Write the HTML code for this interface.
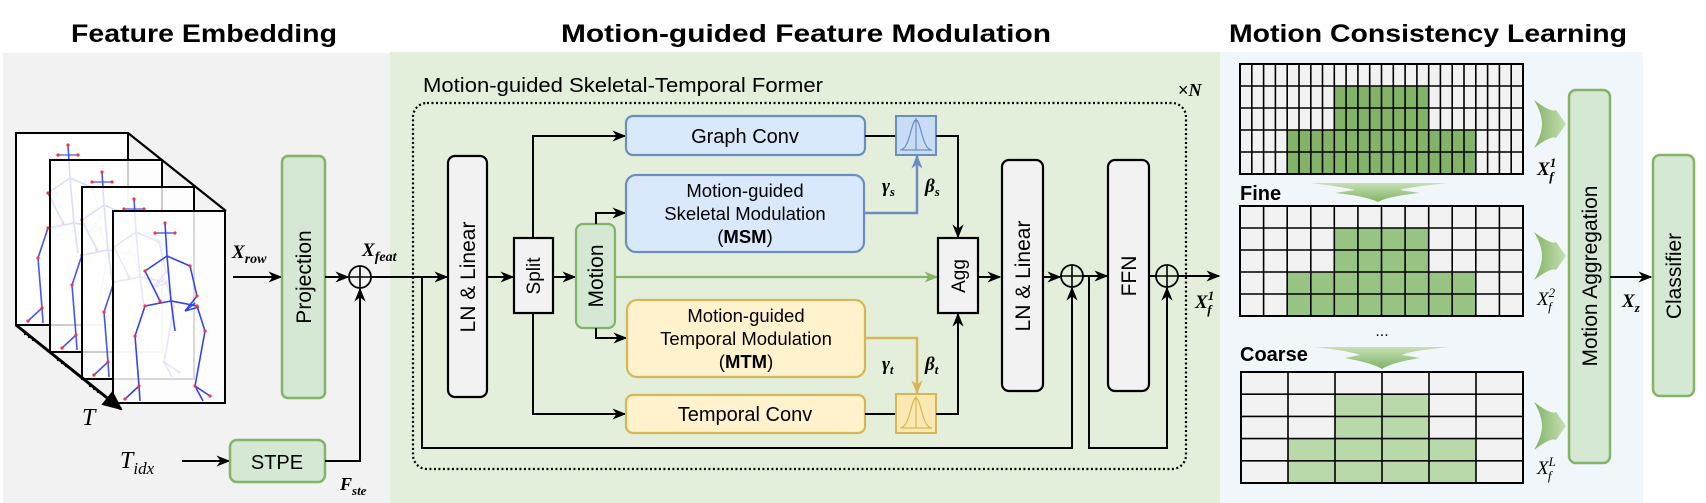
<!DOCTYPE html>
<html><head><meta charset="utf-8"><style>
html,body{margin:0;padding:0;background:#fff;}
svg{display:block;}
text{font-family:"Liberation Sans",sans-serif;}
.m{font-family:"Liberation Serif",serif;font-style:italic;}
</style></head><body>
<svg width="1706" height="503" viewBox="0 0 1706 503" xmlns="http://www.w3.org/2000/svg">
<defs>
<marker id="ab" viewBox="0 0 10 10" refX="9" refY="5" markerWidth="14" markerHeight="14" orient="auto" markerUnits="userSpaceOnUse"><path d="M0,1 L10,5 L0,9 L3,5 z" fill="#000"/></marker>
<marker id="abig" viewBox="0 0 10 10" refX="9" refY="5" markerWidth="20" markerHeight="20" orient="auto" markerUnits="userSpaceOnUse"><path d="M0,0.5 L10,5 L0,9.5 z" fill="#000"/></marker>
<marker id="ag" viewBox="0 0 10 10" refX="9" refY="5" markerWidth="14" markerHeight="14" orient="auto" markerUnits="userSpaceOnUse"><path d="M0,1 L10,5 L0,9 L3,5 z" fill="#82b366"/></marker>
<marker id="abl" viewBox="0 0 10 10" refX="9" refY="5" markerWidth="14" markerHeight="14" orient="auto" markerUnits="userSpaceOnUse"><path d="M0,1 L10,5 L0,9 L3,5 z" fill="#6c8ebf"/></marker>
<marker id="ay" viewBox="0 0 10 10" refX="9" refY="5" markerWidth="14" markerHeight="14" orient="auto" markerUnits="userSpaceOnUse"><path d="M0,1 L10,5 L0,9 L3,5 z" fill="#d6b656"/></marker>
<linearGradient id="gv" x1="0" y1="0" x2="0" y2="1"><stop offset="0" stop-color="#c6e0b4"/><stop offset="1" stop-color="#82b366"/></linearGradient>
<linearGradient id="gh" x1="0" y1="0" x2="1" y2="0"><stop offset="0" stop-color="#82b366"/><stop offset="1" stop-color="#c6e0b4"/></linearGradient>
<g id="fig" stroke="#3344ee" stroke-width="1.6" fill="none">
<path d="M50,12 L52,45 L56,90 L60,120 M52,45 L30,60 L45,90 M52,45 L75,55 L82,85 L70,100 M30,95 L56,90 L82,95 L90,120 L80,175 M30,95 L20,125 L24,175"/>
<path d="M24,175 L10,188 M24,175 L25,190 M80,175 L95,185 M80,175 L88,190 M70,100 L80,92 M70,100 L84,96"/>
<path d="M40,22 L60,22" stroke-width="1.2"/>
</g>
<g id="dots" fill="#ff3333">
<circle cx="50" cy="12" r="1.6"/><circle cx="30" cy="60" r="1.6"/><circle cx="45" cy="90" r="1.6"/><circle cx="75" cy="55" r="1.6"/><circle cx="82" cy="85" r="1.6"/><circle cx="30" cy="95" r="1.6"/><circle cx="82" cy="95" r="1.6"/><circle cx="20" cy="125" r="1.6"/><circle cx="90" cy="120" r="1.6"/><circle cx="24" cy="175" r="1.6"/><circle cx="80" cy="175" r="1.6"/><circle cx="10" cy="188" r="1.6"/><circle cx="95" cy="185" r="1.6"/><circle cx="40" cy="22" r="1.6"/><circle cx="60" cy="22" r="1.6"/>
</g>
</defs>

<rect x="3" y="53" width="387" height="450" fill="#f2f2f2"/>
<rect x="390" y="52" width="830" height="451" fill="#e3eedb"/>
<rect x="1220" y="52" width="423" height="451" fill="#f1f6fb"/>

<text x="204" y="42" font-size="25" font-weight="bold" text-anchor="middle" textLength="266" lengthAdjust="spacingAndGlyphs">Feature Embedding</text>
<text x="806" y="42" font-size="25" font-weight="bold" text-anchor="middle" textLength="490" lengthAdjust="spacingAndGlyphs">Motion-guided Feature Modulation</text>
<text x="1428" y="42" font-size="25" font-weight="bold" text-anchor="middle" textLength="398" lengthAdjust="spacingAndGlyphs">Motion Consistency Learning</text>

<g stroke="#000" stroke-width="2.2" fill="none">
<line x1="16" y1="133" x2="113" y2="211"/>
<line x1="128" y1="133" x2="226" y2="211"/>
</g>
<g>
<rect x="16" y="133" width="112" height="192" fill="#fff" stroke="#000" stroke-width="2"/>
<use href="#fig" x="18" y="133" opacity="0.9"/><use href="#dots" x="18" y="133"/>
<rect x="50" y="160" width="112" height="192" fill="#fff" fill-opacity="0.8" stroke="#000" stroke-width="2"/>
<use href="#fig" x="52" y="160" opacity="0.9"/><use href="#dots" x="52" y="160"/>
<rect x="82" y="187" width="112" height="192" fill="#fff" fill-opacity="0.8" stroke="#000" stroke-width="2"/>
<use href="#fig" x="84" y="187" opacity="0.9"/><use href="#dots" x="84" y="187"/>
<rect x="113" y="211" width="112" height="192" fill="#fff" fill-opacity="0.85" stroke="#000" stroke-width="2"/>
<use href="#fig" x="115" y="211"/><use href="#dots" x="115" y="211"/>
</g>
<line x1="16" y1="325" x2="121" y2="409" stroke="#000" stroke-width="3" marker-end="url(#abig)"/>
<g fill="#000"><circle cx="25" cy="334" r="1.2"/><circle cx="29" cy="337" r="1.2"/><circle cx="33" cy="340" r="1.2"/>
<circle cx="58" cy="360" r="1.2"/><circle cx="62" cy="363" r="1.2"/><circle cx="66" cy="366" r="1.2"/>
<circle cx="90" cy="386" r="1.2"/><circle cx="94" cy="389" r="1.2"/><circle cx="98" cy="392" r="1.2"/></g>
<text x="82" y="425" font-size="24" class="m">T</text>

<text x="232" y="258" font-size="19" class="m" font-weight="bold">X<tspan font-size="14" dy="5">row</tspan></text>
<line x1="233" y1="277" x2="281" y2="277" stroke="#000" stroke-width="2" marker-end="url(#ab)"/>
<rect x="282" y="156" width="43" height="242" rx="6" fill="#d5e8d4" stroke="#82b366" stroke-width="2.5"/>
<text transform="translate(311,277) rotate(-90)" font-size="21" text-anchor="middle">Projection</text>
<line x1="325" y1="277" x2="348" y2="277" stroke="#000" stroke-width="2" marker-end="url(#ab)"/>
<circle cx="360" cy="277" r="11" fill="none" stroke="#000" stroke-width="1.8"/>
<path d="M349,277 H371 M360,266 V288" stroke="#000" stroke-width="1.6"/>
<text x="362" y="256" font-size="19" class="m" font-weight="bold">X<tspan font-size="14" dy="5">feat</tspan></text>

<text x="120" y="468" font-size="24" class="m">T<tspan font-size="17" dy="6">idx</tspan></text>
<line x1="182" y1="461" x2="229" y2="461" stroke="#000" stroke-width="2" marker-end="url(#ab)"/>
<rect x="230" y="440" width="95" height="42" rx="7" fill="#d5e8d4" stroke="#82b366" stroke-width="2.5"/>
<text x="277" y="469" font-size="20" text-anchor="middle">STPE</text>
<polyline points="325,461 360,461 360,289" fill="none" stroke="#000" stroke-width="2" marker-end="url(#ab)"/>
<text x="340" y="490" font-size="18" class="m" font-weight="bold">F<tspan font-size="13" dy="5">ste</tspan></text>

<text x="423" y="92" font-size="20" textLength="400" lengthAdjust="spacingAndGlyphs">Motion-guided Skeletal-Temporal Former</text>
<rect x="413" y="103" width="773" height="366" rx="14" fill="none" stroke="#000" stroke-width="2.2" stroke-dasharray="2,2.5"/>
<text x="1178" y="96" font-size="18">×<tspan class="m" font-weight="bold">N</tspan></text>

<line x1="371" y1="277" x2="447" y2="277" stroke="#000" stroke-width="2" marker-end="url(#ab)"/>
<rect x="448" y="156" width="39" height="241" rx="7" fill="#f2f2f2" stroke="#000" stroke-width="2.2"/>
<text transform="translate(475,277) rotate(-90)" font-size="21" text-anchor="middle">LN &amp; Linear</text>
<line x1="487" y1="277" x2="513" y2="277" stroke="#000" stroke-width="2" marker-end="url(#ab)"/>
<rect x="514" y="238" width="39" height="75" fill="#f2f2f2" stroke="#000" stroke-width="2.2"/>
<text transform="translate(540,276) rotate(-90)" font-size="19" text-anchor="middle">Split</text>
<line x1="553" y1="277" x2="575" y2="277" stroke="#000" stroke-width="2" marker-end="url(#ab)"/>
<rect x="576" y="224" width="39" height="104" rx="7" fill="#d5e8d4" stroke="#82b366" stroke-width="2.2"/>
<text transform="translate(603,276) rotate(-90)" font-size="21" text-anchor="middle">Motion</text>

<polyline points="533,238 533,136 625,136" fill="none" stroke="#000" stroke-width="2" marker-end="url(#ab)"/>
<polyline points="533,313 533,414 625,414" fill="none" stroke="#000" stroke-width="2" marker-end="url(#ab)"/>
<polyline points="596,224 596,213 625,213" fill="none" stroke="#000" stroke-width="2" marker-end="url(#ab)"/>
<polyline points="596,328 596,338 626,338" fill="none" stroke="#000" stroke-width="2" marker-end="url(#ab)"/>

<rect x="626" y="116" width="239" height="39" rx="7" fill="#dae8fc" stroke="#6c8ebf" stroke-width="2.2"/>
<text x="745" y="143" font-size="20" text-anchor="middle">Graph Conv</text>
<rect x="626" y="175" width="238" height="77" rx="10" fill="#dae8fc" stroke="#6c8ebf" stroke-width="2.2"/>
<text x="745" y="197" font-size="18.5" text-anchor="middle">Motion-guided</text>
<text x="745" y="220" font-size="18.5" text-anchor="middle">Skeletal Modulation</text>
<text x="745" y="243" font-size="18.5" text-anchor="middle">(<tspan font-weight="bold">MSM</tspan>)</text>
<rect x="627" y="300" width="238" height="77" rx="10" fill="#fff2cc" stroke="#d6b656" stroke-width="2.2"/>
<text x="746" y="322" font-size="18.5" text-anchor="middle">Motion-guided</text>
<text x="746" y="345" font-size="18.5" text-anchor="middle">Temporal Modulation</text>
<text x="746" y="368" font-size="18.5" text-anchor="middle">(<tspan font-weight="bold">MTM</tspan>)</text>
<rect x="626" y="395" width="239" height="38" rx="7" fill="#fff2cc" stroke="#d6b656" stroke-width="2.2"/>
<text x="745" y="421" font-size="20" text-anchor="middle">Temporal Conv</text>

<line x1="865" y1="136" x2="896" y2="136" stroke="#000" stroke-width="2"/>
<rect x="896" y="116" width="40" height="39" fill="#c9dcf6" stroke="#6c8ebf" stroke-width="2"/>
<path d="M900,150 C910,150 911,120 916,120 C921,120 922,150 932,150 M916,118 V150 M902,150 H932" fill="none" stroke="#6c8ebf" stroke-width="1.2"/>
<polyline points="936,136 958,136 958,237" fill="none" stroke="#000" stroke-width="2" marker-end="url(#ab)"/>
<polyline points="865,213 917,213 917,156" fill="none" stroke="#6c8ebf" stroke-width="2.5" marker-end="url(#abl)"/>
<text x="882" y="192" font-size="19" class="m" font-weight="bold">γ<tspan font-size="13" dy="4">s</tspan></text>
<text x="925" y="192" font-size="19" class="m" font-weight="bold">β<tspan font-size="13" dy="4">s</tspan></text>

<line x1="865" y1="414" x2="896" y2="414" stroke="#000" stroke-width="2"/>
<rect x="896" y="394" width="40" height="39" fill="#fbe9b4" stroke="#d6b656" stroke-width="2"/>
<path d="M900,428 C910,428 911,398 916,398 C921,398 922,428 932,428 M916,396 V428 M902,428 H932" fill="none" stroke="#d6b656" stroke-width="1.2"/>
<polyline points="936,414 958,414 958,314" fill="none" stroke="#000" stroke-width="2" marker-end="url(#ab)"/>
<polyline points="865,338 917,338 917,393" fill="none" stroke="#d6b656" stroke-width="2.5" marker-end="url(#ay)"/>
<text x="882" y="370" font-size="19" class="m" font-weight="bold">γ<tspan font-size="13" dy="4">t</tspan></text>
<text x="925" y="370" font-size="19" class="m" font-weight="bold">β<tspan font-size="13" dy="4">t</tspan></text>

<line x1="615" y1="277" x2="937" y2="277" stroke="#82b366" stroke-width="2.2" marker-end="url(#ag)"/>
<rect x="938" y="238" width="40" height="75" fill="#f2f2f2" stroke="#000" stroke-width="2.2"/>
<text transform="translate(965,276) rotate(-90)" font-size="19" text-anchor="middle">Agg</text>
<line x1="978" y1="277" x2="1000" y2="277" stroke="#000" stroke-width="2" marker-end="url(#ab)"/>
<rect x="1002" y="160" width="41" height="231" rx="7" fill="#f2f2f2" stroke="#000" stroke-width="2.2"/>
<text transform="translate(1030,276) rotate(-90)" font-size="21" text-anchor="middle">LN &amp; Linear</text>
<line x1="1043" y1="277" x2="1060" y2="277" stroke="#000" stroke-width="2" marker-end="url(#ab)"/>
<circle cx="1072" cy="276" r="11" fill="none" stroke="#000" stroke-width="1.8"/>
<path d="M1061,276 H1083 M1072,265 V287" stroke="#000" stroke-width="1.6"/>
<line x1="1083" y1="276" x2="1107" y2="276" stroke="#000" stroke-width="2" marker-end="url(#ab)"/>
<rect x="1108" y="160" width="41" height="231" rx="7" fill="#f2f2f2" stroke="#000" stroke-width="2.2"/>
<text transform="translate(1136,276) rotate(-90)" font-size="21" text-anchor="middle">FFN</text>
<line x1="1149" y1="276" x2="1156" y2="276" stroke="#000" stroke-width="2"/>
<circle cx="1167" cy="276" r="11" fill="none" stroke="#000" stroke-width="1.8"/>
<path d="M1156,276 H1178 M1167,265 V287" stroke="#000" stroke-width="1.6"/>
<line x1="1178" y1="276" x2="1219" y2="276" stroke="#000" stroke-width="2" marker-end="url(#ab)"/>
<text x="1195" y="308" font-size="19" class="m" font-weight="bold">X<tspan font-size="13" dy="-8">1</tspan><tspan font-size="13" dx="-7" dy="14">f</tspan></text>
<polyline points="422,277 422,448 1072,448 1072,288" fill="none" stroke="#000" stroke-width="2" marker-end="url(#ab)"/>
<polyline points="1089,276 1089,448 1167,448 1167,288" fill="none" stroke="#000" stroke-width="2" marker-end="url(#ab)"/>

<rect x="1240" y="64" width="283" height="110" fill="#f2f2f2"/>
<rect x="1334.3" y="86" width="94.3" height="44" fill="#82b366"/>
<rect x="1287.2" y="130" width="188.7" height="44" fill="#82b366"/>
<rect x="1240" y="206" width="283" height="110" fill="#f2f2f2"/>
<rect x="1334.3" y="228" width="94.3" height="44" fill="#97c383"/>
<rect x="1287.2" y="272" width="188.7" height="44" fill="#97c383"/>
<rect x="1241" y="372" width="282" height="111" fill="#f2f2f2"/>
<rect x="1335" y="394.2" width="94" height="44.4" fill="#b9d9ab"/>
<rect x="1288" y="438.6" width="188" height="44.4" fill="#b9d9ab"/>
<g stroke="#000" stroke-width="1.6" fill="none">
<path d="M1240,86H1523M1240,108H1523M1240,130H1523M1240,152H1523
M1251.8,64V174M1263.6,64V174M1275.4,64V174M1287.2,64V174M1299,64V174M1310.8,64V174M1322.5,64V174M1334.3,64V174M1346.1,64V174M1357.9,64V174M1369.7,64V174M1381.5,64V174M1393.3,64V174M1405.1,64V174M1416.9,64V174M1428.7,64V174M1440.4,64V174M1452.2,64V174M1464,64V174M1475.8,64V174M1487.6,64V174M1499.4,64V174M1511.2,64V174"/>
<rect x="1240" y="64" width="283" height="110" stroke-width="2"/>
<path d="M1240,228H1523M1240,250H1523M1240,272H1523M1240,294H1523
M1263.6,206V316M1287.2,206V316M1310.8,206V316M1334.3,206V316M1357.9,206V316M1381.5,206V316M1405.1,206V316M1428.7,206V316M1452.2,206V316M1475.8,206V316M1499.4,206V316"/>
<rect x="1240" y="206" width="283" height="110" stroke-width="2"/>
<path d="M1241,394.2H1523M1241,416.4H1523M1241,438.6H1523M1241,460.8H1523
M1288,372V483M1335,372V483M1382,372V483M1429,372V483M1476,372V483"/>
<rect x="1241" y="372" width="282" height="111" stroke-width="2"/>
</g>
<text x="1240" y="200" font-size="20" font-weight="bold">Fine</text>
<text x="1240" y="361" font-size="20" font-weight="bold">Coarse</text>
<text x="1382" y="336" font-size="16" text-anchor="middle">...</text>
<path d="M1310,183 L1448,183 C1420,186 1405,188 1400,190 L1420,193 C1400,195 1385,198 1378,202 C1370,198 1355,195 1335,193 L1355,190 C1348,188 1335,186 1310,183 Z" fill="url(#gv)"/>
<path d="M1315,347 L1450,347 C1420,350 1408,352 1402,355 L1420,358 C1402,361 1390,364 1382,369 C1374,364 1360,361 1345,358 L1360,355 C1352,352 1340,350 1315,347 Z" fill="url(#gv)"/>
<g fill="url(#gh)">
<path d="M1534,100 C1545,108 1552,112 1556,110 L1566,124 L1556,138 C1552,136 1545,140 1534,148 C1540,138 1542,130 1542,124 C1542,118 1540,110 1534,100Z"/>
<path d="M1534,232 C1545,240 1552,244 1556,242 L1566,256 L1556,270 C1552,268 1545,272 1534,280 C1540,270 1542,262 1542,256 C1542,250 1540,242 1534,232Z"/>
<path d="M1534,402 C1545,410 1552,414 1556,412 L1566,426 L1556,440 C1552,438 1545,442 1534,450 C1540,440 1542,432 1542,426 C1542,420 1540,412 1534,402Z"/>
</g>
<text x="1537" y="175" font-size="19" class="m" font-weight="bold">X<tspan font-size="13" dy="-8">1</tspan><tspan font-size="13" dx="-7" dy="14">f</tspan></text>
<text x="1537" y="305" font-size="19" class="m">X<tspan font-size="13" dy="-8">2</tspan><tspan font-size="13" dx="-7" dy="14">f</tspan></text>
<text x="1537" y="474" font-size="19" class="m">X<tspan font-size="13" dy="-8">L</tspan><tspan font-size="13" dx="-8" dy="14">f</tspan></text>

<rect x="1569" y="90" width="41" height="373" rx="7" fill="#d5e8d4" stroke="#82b366" stroke-width="2.5"/>
<text transform="translate(1597,276) rotate(-90)" font-size="21" text-anchor="middle">Motion Aggregation</text>
<line x1="1610" y1="277" x2="1651" y2="277" stroke="#000" stroke-width="2" marker-end="url(#ab)"/>
<text x="1622" y="307" font-size="19" class="m" font-weight="bold">X<tspan font-size="13" dy="5">z</tspan></text>
<rect x="1653" y="155" width="41" height="241" rx="7" fill="#d5e8d4" stroke="#82b366" stroke-width="2.5"/>
<text transform="translate(1681,276) rotate(-90)" font-size="21" text-anchor="middle">Classifier</text>
</svg>
</body></html>
